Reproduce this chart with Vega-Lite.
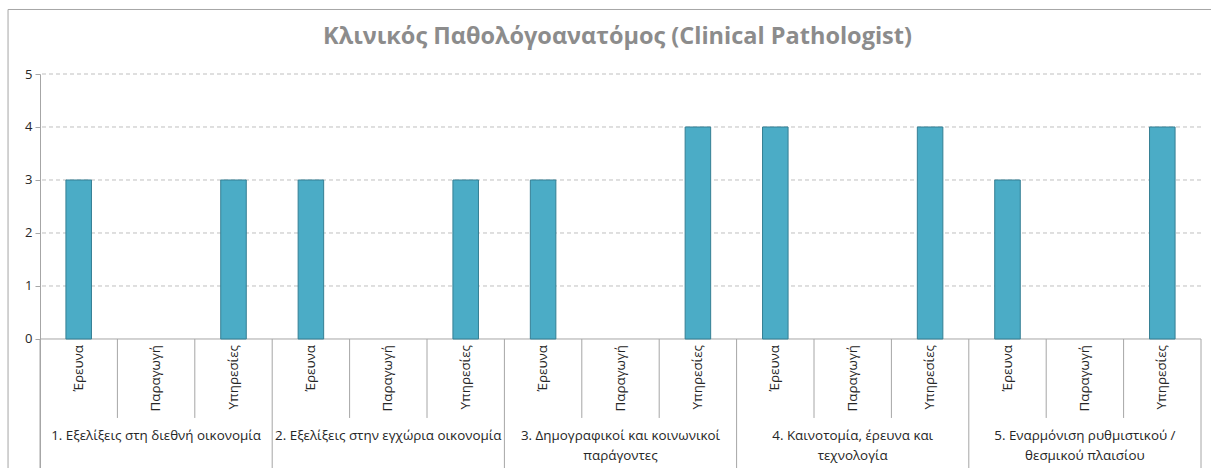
{
  "$schema": "https://vega.github.io/schema/vega-lite/v6.json",
  "width": 1161,
  "height": 394,
  "autosize": {"type": "none"},
  "padding": {"left": 40, "top": 74, "right": 10, "bottom": 0},
  "background": "white",
  "config": {"view": {"stroke": null}, "font": "Open Sans"},
  "title": {"text": "Κλινικός Παθολόγοανατόμος (Clinical Pathologist)", "font": "Open Sans", "fontSize": 23.5, "fontWeight": "bold", "color": "#8C8C8C", "anchor": "middle", "frame": "group", "baseline": "alphabetic", "offset": -59, "dx": -3},
  "datasets": {
    "bars": [
      {"key": "1-Έρευνα", "cat": "Έρευνα", "value": 3},
      {"key": "1-Παραγωγή", "cat": "Παραγωγή", "value": 0},
      {"key": "1-Υπηρεσίες", "cat": "Υπηρεσίες", "value": 3},
      {"key": "2-Έρευνα", "cat": "Έρευνα", "value": 3},
      {"key": "2-Παραγωγή", "cat": "Παραγωγή", "value": 0},
      {"key": "2-Υπηρεσίες", "cat": "Υπηρεσίες", "value": 3},
      {"key": "3-Έρευνα", "cat": "Έρευνα", "value": 3},
      {"key": "3-Παραγωγή", "cat": "Παραγωγή", "value": 0},
      {"key": "3-Υπηρεσίες", "cat": "Υπηρεσίες", "value": 4},
      {"key": "4-Έρευνα", "cat": "Έρευνα", "value": 4},
      {"key": "4-Παραγωγή", "cat": "Παραγωγή", "value": 0},
      {"key": "4-Υπηρεσίες", "cat": "Υπηρεσίες", "value": 4},
      {"key": "5-Έρευνα", "cat": "Έρευνα", "value": 3},
      {"key": "5-Παραγωγή", "cat": "Παραγωγή", "value": 0},
      {"key": "5-Υπηρεσίες", "cat": "Υπηρεσίες", "value": 4}
    ],
    "groups": [
      {"first": "1-Έρευνα", "mid": "1-Παραγωγή", "last": "1-Υπηρεσίες", "label": "1. Εξελίξεις στη διεθνή οικονομία", "n": 1},
      {"first": "2-Έρευνα", "mid": "2-Παραγωγή", "last": "2-Υπηρεσίες", "label": "2. Εξελίξεις στην εγχώρια οικονομία", "n": 2},
      {"first": "3-Έρευνα", "mid": "3-Παραγωγή", "last": "3-Υπηρεσίες", "label": "3. Δημογραφικοί και κοινωνικοί\nπαράγοντες", "n": 3},
      {"first": "4-Έρευνα", "mid": "4-Παραγωγή", "last": "4-Υπηρεσίες", "label": "4. Καινοτομία, έρευνα και\nτεχνολογία", "n": 4},
      {"first": "5-Έρευνα", "mid": "5-Παραγωγή", "last": "5-Υπηρεσίες", "label": "5. Εναρμόνιση ρυθμιστικού /\nθεσμικού πλαισίου", "n": 5}
    ],
    "grid": [{"v": 1}, {"v": 2}, {"v": 3}, {"v": 4}, {"v": 5}]
  },
  "layer": [
    {
      "layer": [
        {
          "data": {"name": "grid"},
          "mark": {"type": "rule", "stroke": "#BFBFBF", "strokeDash": [4, 3], "strokeWidth": 1},
          "encoding": {"y": {"field": "v", "type": "quantitative"}}
        },
        {
          "data": {"values": [{}]},
          "mark": {"type": "rule", "stroke": "#A6A6A6", "strokeWidth": 1},
          "encoding": {"y": {"datum": 0, "type": "quantitative"}}
        },
        {
          "data": {"name": "bars"},
          "transform": [{"filter": "datum.value > 0"}],
          "mark": {"type": "bar", "width": {"band": 0.33}, "fill": "#4BACC6", "stroke": "#357F94", "strokeWidth": 1},
          "encoding": {
            "x": {"field": "key", "type": "nominal", "axis": null,
                  "scale": {"domain": ["1-Έρευνα","1-Παραγωγή","1-Υπηρεσίες","2-Έρευνα","2-Παραγωγή","2-Υπηρεσίες","3-Έρευνα","3-Παραγωγή","3-Υπηρεσίες","4-Έρευνα","4-Παραγωγή","4-Υπηρεσίες","5-Έρευνα","5-Παραγωγή","5-Υπηρεσίες"], "paddingInner": 0, "paddingOuter": 0}},
            "y": {"field": "value", "type": "quantitative",
                  "scale": {"domain": [-2.434, 5], "nice": false, "zero": false},
                  "axis": {"values": [0, 1, 2, 3, 4, 5], "grid": false, "title": null, "domainColor": "#A6A6A6", "tickColor": "#A6A6A6", "tickSize": 5, "labelFontSize": 13, "labelColor": "#262626", "labelPadding": 3, "labelFont": "Open Sans"}}
          }
        },
        {
          "data": {"name": "bars"},
          "mark": {"type": "text", "angle": 270, "align": "right", "baseline": "middle", "fontSize": 13.4, "color": "#262626"},
          "encoding": {
            "x": {"field": "key", "type": "nominal", "axis": null},
            "y": {"datum": -0.113, "type": "quantitative"},
            "text": {"field": "cat"}
          }
        },
        {
          "data": {"name": "bars"},
          "transform": [{"filter": "datum.cat != 'Έρευνα'"}],
          "mark": {"type": "rule", "stroke": "#A6A6A6", "strokeWidth": 1},
          "encoding": {
            "x": {"field": "key", "type": "nominal", "bandPosition": 0, "axis": null},
            "y": {"datum": 0, "type": "quantitative"},
            "y2": {"datum": -1.49}
          }
        },
        {
          "data": {"name": "groups"},
          "mark": {"type": "rule", "stroke": "#A6A6A6", "strokeWidth": 1},
          "encoding": {
            "x": {"field": "first", "type": "nominal", "bandPosition": 0, "axis": null},
            "y": {"datum": 0, "type": "quantitative"},
            "y2": {"datum": -2.7}
          }
        },
        {
          "data": {"name": "groups"},
          "transform": [{"filter": "datum.n == 5"}],
          "mark": {"type": "rule", "stroke": "#A6A6A6", "strokeWidth": 1},
          "encoding": {
            "x": {"field": "last", "type": "nominal", "bandPosition": 1, "axis": null},
            "y": {"datum": 0, "type": "quantitative"},
            "y2": {"datum": -2.7}
          }
        },
        {
          "data": {"name": "groups"},
          "mark": {"type": "text", "align": "center", "baseline": "top", "fontSize": 13.4, "lineBreak": "\n", "lineHeight": 20, "color": "#262626"},
          "encoding": {
            "x": {"field": "mid", "type": "nominal", "axis": null},
            "y": {"datum": -1.7, "type": "quantitative"},
            "text": {"field": "label"}
          }
        }
      ]
    },
    {
      "data": {"values": [{}]},
      "mark": {"type": "rect", "fill": "transparent", "stroke": "#A6A6A6", "strokeWidth": 1},
      "encoding": {
        "x": {"datum": -0.413, "type": "quantitative", "scale": {"domain": [0, 15], "nice": false, "zero": false}, "axis": null},
        "x2": {"datum": 15.6},
        "y": {"datum": 6.217, "type": "quantitative"},
        "y2": {"datum": -3}
      }
    }
  ],
  "resolve": {"scale": {"x": "independent"}}
}
